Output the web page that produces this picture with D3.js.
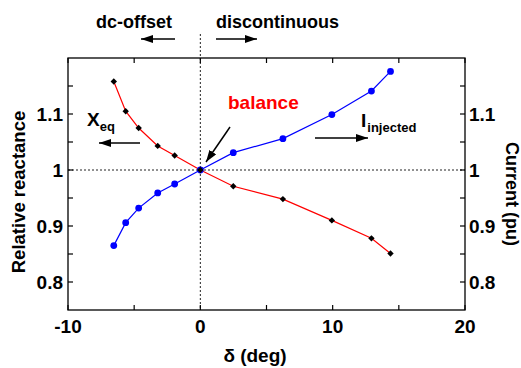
<!DOCTYPE html>
<html>
<head>
<meta charset="utf-8">
<script src="https://cdn.jsdelivr.net/npm/d3@7"></script>
<style>
  html, body { margin: 0; padding: 0; background: #fff; }
  svg { display: block; font-family: Arial, "Liberation Sans", Helvetica, sans-serif; font-weight: bold; }
</style>
</head>
<body>
<svg id="chart" width="521" height="368"></svg>
<script>
// Load angle delta (deg) for each operating point
const delta = [-6.54, -5.64, -4.66, -3.22, -1.94, 0, 2.49, 6.24, 9.94, 12.93, 14.37];
// Relative equivalent reactance (left axis)
const reactance = [1.158, 1.105, 1.075, 1.043, 1.026, 1.0, 0.971, 0.948, 0.910, 0.878, 0.851];
// Injected current in pu (right axis)
const current = [0.865, 0.906, 0.932, 0.959, 0.975, 1.0, 1.031, 1.056, 1.099, 1.141, 1.176];

const xTicks = [-10, 0, 10, 20];
const xMinor = [-5, 5, 15];
const yTicks = [0.8, 0.9, 1.0, 1.1];
const yTickLabels = ["0.8", "0.9", "1", "1.1"];
const yMinor = [0.85, 0.95, 1.05, 1.15];

const svg = d3.select("#chart");
const L = 68, R = 465, T = 58, B = 310;

const x = d3.scaleLinear().domain([-10, 20]).range([L, R]);
const yL = d3.scaleLinear().domain([0.75, 1.2]).range([B, T]);
const yR = d3.scaleLinear().domain([0.75, 1.2]).range([B, T]);

// reference dashed lines at delta = 0 and unity
svg.append("line")
  .attr("x1", x(0)).attr("x2", x(0)).attr("y1", 34).attr("y2", B)
  .attr("stroke", "#222").attr("stroke-width", 1).attr("stroke-dasharray", "2,2");
svg.append("line")
  .attr("x1", L).attr("x2", R).attr("y1", yL(1)).attr("y2", yL(1))
  .attr("stroke", "#222").attr("stroke-width", 1).attr("stroke-dasharray", "2,2");

// frame
svg.append("rect").attr("x", L).attr("y", T).attr("width", R - L).attr("height", B - T)
  .attr("fill", "none").attr("stroke", "#000").attr("stroke-width", 1.3);

// inward ticks
const tickLen = 5;
const tickG = svg.append("g").attr("stroke", "#000").attr("stroke-width", 1.2);
xTicks.concat(xMinor).forEach(v => {
  tickG.append("line").attr("x1", x(v)).attr("x2", x(v)).attr("y1", B).attr("y2", B - tickLen);
  tickG.append("line").attr("x1", x(v)).attr("x2", x(v)).attr("y1", T).attr("y2", T + tickLen);
});
yTicks.concat(yMinor).forEach(v => {
  tickG.append("line").attr("x1", L).attr("x2", L + tickLen).attr("y1", yL(v)).attr("y2", yL(v));
  tickG.append("line").attr("x1", R).attr("x2", R - tickLen).attr("y1", yR(v)).attr("y2", yR(v));
});

// tick labels
const fs = 19;
xTicks.forEach(v => {
  svg.append("text").attr("x", x(v)).attr("y", 333).attr("text-anchor", "middle")
    .attr("font-size", fs).text(v);
});
yTicks.forEach((v, i) => {
  svg.append("text").attr("x", 63).attr("y", yL(v)).attr("dy", "0.36em").attr("text-anchor", "end")
    .attr("font-size", fs).text(yTickLabels[i]);
  svg.append("text").attr("x", 469).attr("y", yR(v)).attr("dy", "0.36em").attr("text-anchor", "start")
    .attr("font-size", fs).text(yTickLabels[i]);
});

// axis titles
svg.append("text").attr("x", 255).attr("y", 362).attr("text-anchor", "middle")
  .attr("font-size", 19).text("δ (deg)");
svg.append("text").attr("transform", "translate(25,192) rotate(-90)").attr("text-anchor", "middle")
  .attr("font-size", 18.5).text("Relative reactance");
svg.append("text").attr("transform", "translate(506,194) rotate(90)").attr("text-anchor", "middle")
  .attr("font-size", 18).text("Current (pu)");

// series
const pts = (ys, sc) => delta.map((d, i) => [x(d), sc(ys[i])]);
const line = d3.line();

svg.append("path").attr("d", line(pts(reactance, yL)))
  .attr("fill", "none").attr("stroke", "#ff0000").attr("stroke-width", 1.2);
svg.append("path").attr("d", line(pts(current, yR)))
  .attr("fill", "none").attr("stroke", "#0000ff").attr("stroke-width", 1.2);

svg.append("g").selectAll("circle").data(pts(current, yR)).join("circle")
  .attr("cx", d => d[0]).attr("cy", d => d[1]).attr("r", 3.4).attr("fill", "#0000ff");

const diamond = d3.symbol().type(d3.symbolDiamond2).size(26);
svg.append("g").selectAll("path").data(pts(reactance, yL)).join("path")
  .attr("transform", d => `translate(${d[0]},${d[1]})`).attr("d", diamond).attr("fill", "#000");

// arrows
svg.append("defs").append("marker")
  .attr("id", "head").attr("viewBox", "0 0 12 8").attr("refX", 12).attr("refY", 4)
  .attr("markerWidth", 12).attr("markerHeight", 8).attr("markerUnits", "userSpaceOnUse")
  .attr("orient", "auto")
  .append("path").attr("d", "M0,0 L12,4 L0,8 Z").attr("fill", "#000");

function arrow(x1, y1, x2, y2) {
  svg.append("line").attr("x1", x1).attr("y1", y1).attr("x2", x2).attr("y2", y2)
    .attr("stroke", "#000").attr("stroke-width", 1.5).attr("marker-end", "url(#head)");
}
arrow(175, 39, 141, 39);
arrow(216, 39, 257, 39);
arrow(140, 143, 99, 143);
arrow(315, 138, 368, 138);
arrow(230, 127, 206, 162);

// annotations
svg.append("text").attr("x", 96).attr("y", 28).attr("font-size", 18).text("dc-offset");
svg.append("text").attr("x", 216).attr("y", 28).attr("font-size", 18).text("discontinuous");
svg.append("text").attr("x", 228).attr("y", 109).attr("font-size", 19).attr("fill", "#ff0000").text("balance");

const xeq = svg.append("text").attr("x", 87).attr("y", 126).attr("font-size", 19);
xeq.append("tspan").text("X");
xeq.append("tspan").attr("font-size", 13).attr("dy", 5).text("eq");

const inj = svg.append("text").attr("x", 361).attr("y", 127).attr("font-size", 19);
inj.append("tspan").text("I");
inj.append("tspan").attr("font-size", 13).attr("dy", 5).attr("dx", 1).text("injected");
</script>
</body>
</html>
